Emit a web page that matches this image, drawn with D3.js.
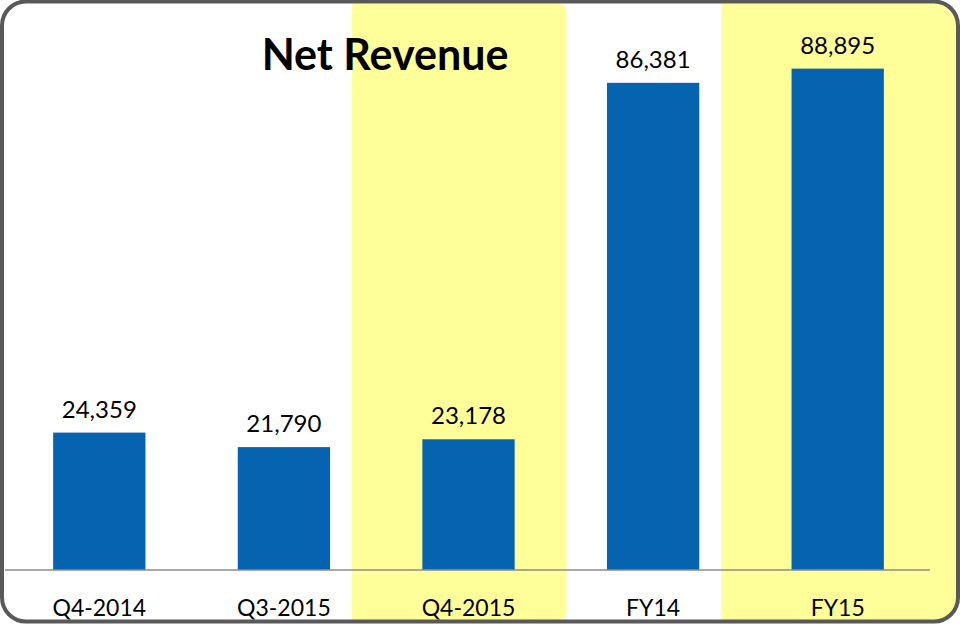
<!DOCTYPE html>
<html>
<head>
<meta charset="utf-8">
<script src="https://cdn.jsdelivr.net/npm/d3@7"></script>
<style>
  body { margin: 0; background: #fff; }
  text { font-family: Lato, "Noto Sans", sans-serif; }
</style>
</head>
<body>
<div id="chart"></div>
<script>
// chart data
var categories = ["Q4-2014", "Q3-2015", "Q4-2015", "FY14", "FY15"];
var revenue = [24359, 21790, 23178, 86381, 88895];
var highlighted = ["Q4-2015", "FY15"];

var width = 964, height = 628;

var svg = d3.select("#chart")
  .append("svg")
    .attr("width", width)
    .attr("height", height);

// rounded frame used for clipping the highlight bands
var frame = {x: 2, y: 1.5, w: 956, h: 620, r: 24};

svg.append("clipPath")
    .attr("id", "frameClip")
  .append("rect")
    .attr("x", frame.x)
    .attr("y", frame.y)
    .attr("width", frame.w)
    .attr("height", frame.h)
    .attr("rx", frame.r);

// x scale: bands between the frame and the end of the baseline
var x = d3.scaleBand()
  .domain(categories)
  .range([7, 930])
  .paddingInner(0.5)
  .paddingOuter(0.25);

var y = d3.scaleLinear()
  .domain([0, 100000])
  .range([570, 6]);

var step = x.step();
var last = categories[categories.length - 1];

// yellow highlight columns
var hl = svg.append("g").attr("clip-path", "url(#frameClip)");
highlighted.forEach(function(c) {
  var left = x(c) - step * 0.38;
  // the last column runs into the frame
  var right = c === last ? width : x(c) + x.bandwidth() + step * 0.28;
  hl.append("rect")
    .attr("x", left)
    .attr("y", 4)
    .attr("width", right - left)
    .attr("height", 616)
    .attr("rx", 8)
    .attr("fill", "#ffff99");
  // keep the left corners square
  hl.append("rect")
    .attr("x", left)
    .attr("y", 4)
    .attr("width", (right - left) / 2)
    .attr("height", 616)
    .attr("fill", "#ffff99");
});

// bars
svg.selectAll(".bar")
  .data(revenue)
  .enter()
  .append("rect")
    .attr("class", "bar")
    .attr("x", function(d, i) { return x(categories[i]); })
    .attr("y", function(d) { return y(d); })
    .attr("width", x.bandwidth())
    .attr("height", function(d) { return y(0) - y(d); })
    .attr("fill", "#0563af");

// value labels
svg.selectAll(".val")
  .data(revenue)
  .enter()
  .append("text")
    .attr("class", "val")
    .attr("x", function(d, i) { return x(categories[i]) + x.bandwidth() / 2; })
    .attr("y", function(d) { return y(d) - 15; })
    .attr("text-anchor", "middle")
    .style("font-size", "24px")
    .attr("fill", "#000")
    .text(function(d) { return d3.format(",")(d); });

// x axis (baseline + category labels)
var xAxis = svg.append("g")
  .attr("transform", "translate(0," + y(0) + ")")
  .call(d3.axisBottom(x).tickSize(0).tickPadding(30));

xAxis.select(".domain")
  .attr("d", "M5,0H930")
  .attr("stroke", "#8c8c8c")
  .attr("stroke-width", 1.5);

xAxis.selectAll("text")
  .style("font-size", "23px")
  .attr("fill", "#000")
  .style("font-family", "Lato, 'Noto Sans', sans-serif");

// title
svg.append("text")
    .attr("x", 385)
    .attr("y", 70)
    .attr("text-anchor", "middle")
    .style("font-size", "43px")
    .style("font-weight", "bold")
    .attr("fill", "#000")
    .text("Net Revenue");

// outer frame
svg.append("rect")
    .attr("x", frame.x)
    .attr("y", frame.y)
    .attr("width", frame.w)
    .attr("height", frame.h)
    .attr("rx", frame.r)
    .attr("fill", "none")
    .attr("stroke", "#595959")
    .attr("stroke-width", 4);
</script>
</body>
</html>
